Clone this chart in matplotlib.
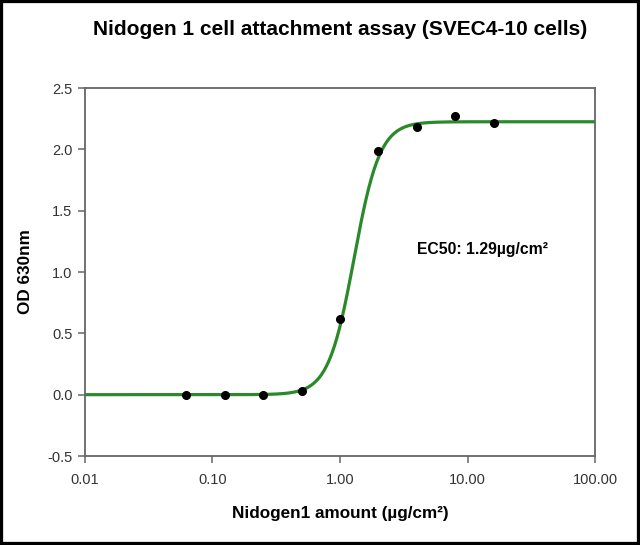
import numpy as np
import matplotlib
matplotlib.use("Agg")
import matplotlib.pyplot as plt
from matplotlib.patches import Rectangle

plt.rcParams['font.family'] = ['Liberation Sans', 'DejaVu Sans']

# measured points
amount = [0.0625, 0.125, 0.25, 0.5, 1.0, 2.0, 4.0, 8.0, 16.0]
od630 = [0.00, -0.005, 0.00, 0.03, 0.615, 1.99, 2.18, 2.27, 2.215]

# fitted 4-parameter logistic curve
fit_bottom = 0.0
fit_top = 2.225
fit_ec50 = 1.29
fit_hill = 4.3

x_ticks = [0.01, 0.1, 1, 10, 100]
x_tick_labels = ['0.01', '0.10', '1.00', '10.00', '100.00']
y_ticks = [-0.5, 0.0, 0.5, 1.0, 1.5, 2.0, 2.5]

fig = plt.figure(figsize=(6.4, 5.45), dpi=100)
ax = fig.add_axes([0.1328, 0.1633, 0.7969, 0.6752])

xs = np.logspace(-2, 2, 400)
ys = fit_bottom + (fit_top - fit_bottom) / (1 + (fit_ec50 / xs) ** fit_hill)
ax.plot(xs, ys, color='#2a8a2a', lw=2.3, zorder=2)
ax.plot(amount, od630, 'o', color='black', ms=5.5, zorder=3)

ax.set_xscale('log')
ax.set_xlim(0.01, 100)
ax.set_ylim(-0.5, 2.5)
ax.set_xticks(x_ticks)
ax.set_xticklabels(x_tick_labels)
ax.minorticks_off()
ax.set_yticks(y_ticks)
ax.set_yticklabels(['%.1f' % v for v in y_ticks])

for s in ax.spines.values():
    s.set_color('#666666')
    s.set_linewidth(1.3)
ax.tick_params(direction='out', length=5, width=1.1, color='#666666',
               labelsize=10.5, labelcolor='#333333')
ax.tick_params(axis='x', pad=7)
ax.tick_params(axis='y', pad=4)

ax.set_xlabel('Nidogen1 amount (µg/cm²)', fontsize=12.3, fontweight='bold', labelpad=14)
ax.set_ylabel('OD 630nm', fontsize=12.3, fontweight='bold', labelpad=10)
ax.set_title('Nidogen 1 cell attachment assay (SVEC4-10 cells)',
             fontsize=15, fontweight='bold', pad=38)

ax.text(0.651, 0.56, 'EC50: 1.29µg/cm²', transform=ax.transAxes,
        fontsize=11.3, fontweight='bold', ha='left', va='center')

fig.patches.append(Rectangle((0, 0), 1, 1, transform=fig.transFigure,
                             fill=False, edgecolor='black', lw=4.5))

fig.savefig('out.png', dpi=100)
